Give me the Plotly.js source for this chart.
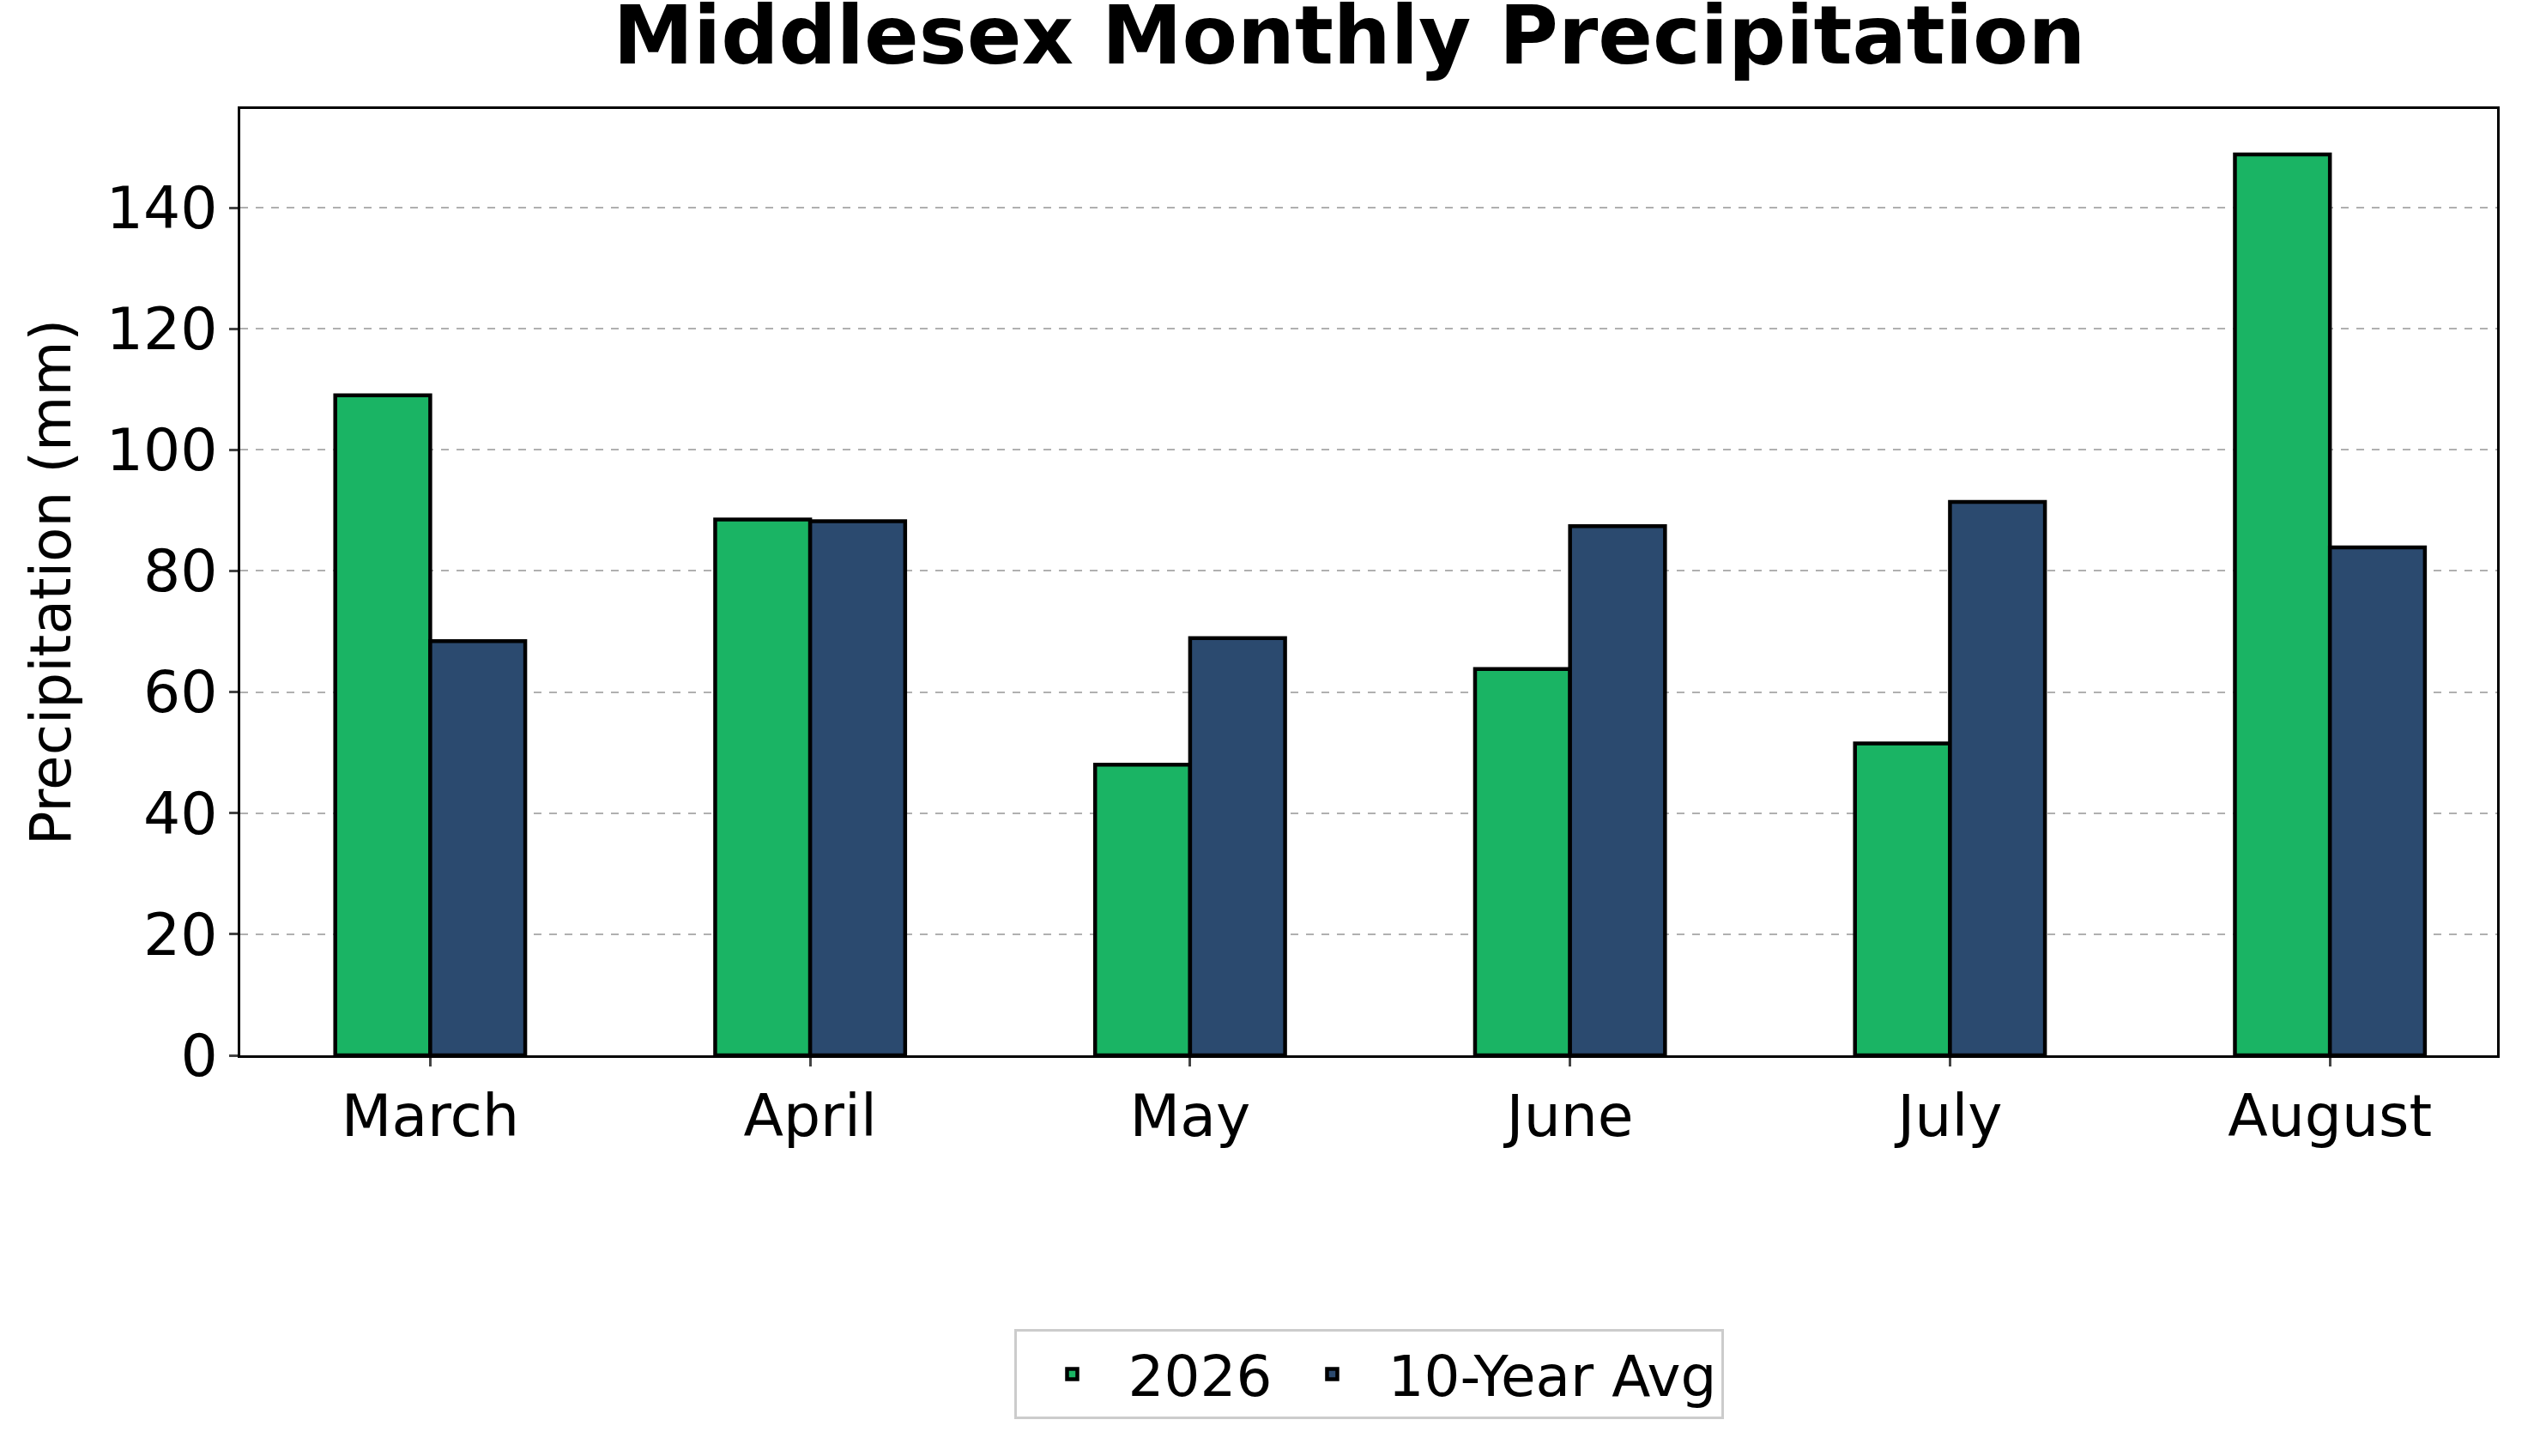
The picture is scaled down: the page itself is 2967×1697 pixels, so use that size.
<!DOCTYPE html>
<html>
<head>
<script src="https://cdn.plot.ly/plotly-3.0.1.min.js"></script>
<style>html,body{margin:0;padding:0;background:#fff}</style>
</head>
<body>
<div id="chart" style="width:2967px;height:1697px"></div>
<script>
let months = ['March', 'April', 'May', 'June', 'July', 'August']
let precip2026 = [109, 88.5, 48, 63.8, 51.5, 148.8]
let tenYearAvg = [68.4, 88.2, 68.9, 87.4, 91.4, 83.9]

let graph_data = [
  {
    x: months, y: precip2026, type: 'bar', name: '2026',
    marker: {color: '#1ab464', line: {color: '#000', width: 4.5}}
  },
  {
    x: months, y: tenYearAvg, type: 'bar', name: '10-Year Avg',
    marker: {color: '#2b4a6f', line: {color: '#000', width: 4.5}}
  }
]

var layout = {
  width: 2967, height: 1697,
  margin: {l: 280, r: 57, t: 127, b: 467},
  paper_bgcolor: '#fff', plot_bgcolor: '#fff',
  font: {family: 'DejaVu Sans', color: '#000', size: 68},
  barmode: 'group', bargap: 0.5, bargroupgap: 0,
  title: {text: '<b>Middlesex Monthly Precipitation</b>', font: {size: 94}, x: 0.53, xanchor: 'center', y: 0.995, yanchor: 'top'},
  xaxis: {
    range: [-0.5, 5.44], showline: true, linecolor: '#000', linewidth: 2.5, mirror: true,
    ticks: 'outside', ticklen: 10, tickwidth: 2.5, tickfont: {size: 68}
  },
  yaxis: {
    range: [0, 156.3], showline: true, linecolor: '#000', linewidth: 2.5, mirror: true,
    ticks: 'outside', ticklen: 10, tickwidth: 2.5, dtick: 20, tickfont: {size: 68},
    showgrid: true, gridcolor: '#b0b0b0', griddash: 'dash', gridwidth: 2, zeroline: false,
    title: {text: 'Precipitation (mm)', font: {size: 66}, standoff: 20}
  },
  legend: {
    orientation: 'h', x: 0.5, xanchor: 'center', y: -0.337, yanchor: 'middle',
    bordercolor: '#ccc', borderwidth: 3, font: {size: 66}, itemwidth: 120
  },
  showlegend: true
};
Plotly.newPlot('chart', graph_data, layout, {displayModeBar: false})
</script>
</body>
</html>
